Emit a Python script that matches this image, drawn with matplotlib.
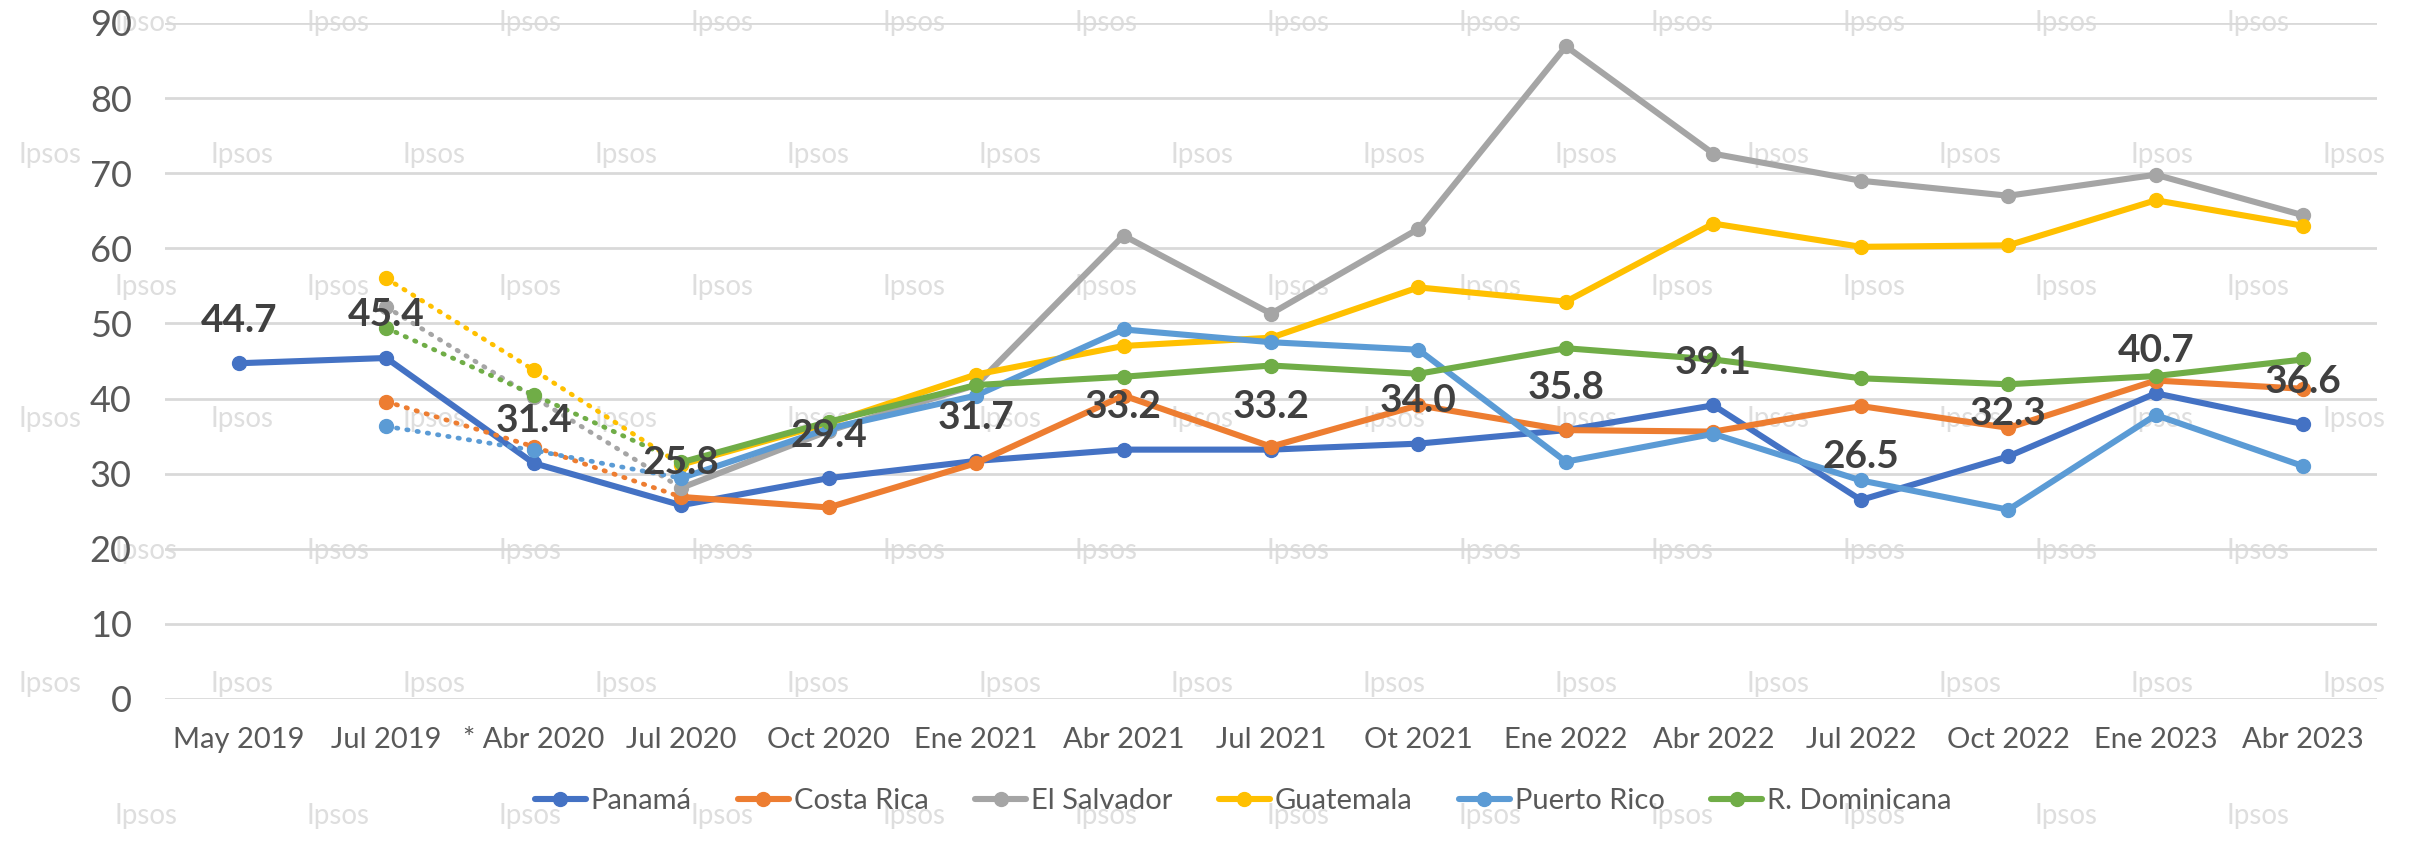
import matplotlib
matplotlib.use('Agg')
import matplotlib.pyplot as plt
import numpy as np

plt.rcParams['font.family'] = ['Lato', 'DejaVu Sans']

# categories and series values
months = ['May 2019', 'Jul 2019', '* Abr 2020', 'Jul 2020', 'Oct 2020', 'Ene 2021',
          'Abr 2021', 'Jul 2021', 'Ot 2021', 'Ene 2022', 'Abr 2022', 'Jul 2022',
          'Oct 2022', 'Ene 2023', 'Abr 2023']
panama = [44.7, 45.4, 31.4, 25.8, 29.4, 31.7, 33.2, 33.2, 34.0, 35.8, 39.1, 26.5, 32.3, 40.7, 36.6]
costa_rica = [None, 39.6, 33.6, 26.9, 25.5, 31.4, 40.4, 33.6, 39.1, 35.8, 35.6, 39.0, 36.1, 42.4, 41.3]
el_salvador = [None, 52.2, 40.2, 28.1, 35.7, 41.8, 61.7, 51.3, 62.6, 86.9, 72.6, 69.0, 67.0, 69.8, 64.4]
guatemala = [None, 56.0, 43.8, 31.2, 36.7, 43.2, 47.0, 48.1, 54.8, 52.9, 63.3, 60.2, 60.4, 66.4, 63.0]
puerto_rico = [None, 36.3, 33.1, 29.4, 36.0, 40.4, 49.2, 47.5, 46.5, 31.6, 35.3, 29.1, 25.2, 37.8, 31.0]
r_dominicana = [None, 49.4, 40.5, 31.5, 36.9, 41.8, 42.9, 44.4, 43.3, 46.7, 45.2, 42.7, 41.9, 43.0, 45.2]

names = ['Panamá', 'Costa Rica', 'El Salvador', 'Guatemala', 'Puerto Rico', 'R. Dominicana']
colors = ['#4472C4', '#ED7D31', '#A5A5A5', '#FFC000', '#5B9BD5', '#70AD47']
all_series = [panama, costa_rica, el_salvador, guatemala, puerto_rico, r_dominicana]

W, H = 2410, 842
fig = plt.figure(figsize=(W / 100, H / 100), dpi=100)
ax = fig.add_axes([165 / W, 1 - 699 / H, (2377 - 165) / W, (699 - 23) / H])
ax.set_zorder(1)
ax.patch.set_alpha(0)

# watermark
rows = [23, 155, 287, 419, 551, 684, 816]
for r, yy in enumerate(rows):
    start = 146 if r % 2 == 0 else 50
    for xx in range(start, W, 192):
        fig.text(xx / W, 1 - yy / H, 'Ipsos', ha='center', va='center',
                 fontsize=20, color='#dedede', zorder=0)

x = np.arange(len(months))
lw = 4.4
ms = 10
handles = []
for i, (name, vals, c) in enumerate(zip(names, all_series, colors)):
    v = np.array([np.nan if a is None else a for a in vals], dtype=float)
    z = 3 + i
    if name == 'Panamá':
        h, = ax.plot(x, v, color=c, lw=lw, marker='o', ms=ms, zorder=z,
                     solid_capstyle='round', clip_on=False)
    else:
        ax.plot(x[1:4], v[1:4], color=c, lw=3.4, linestyle=(0, (0.3, 1.9)),
                dash_capstyle='round', zorder=z, clip_on=False)
        ax.plot(x[1:3], v[1:3], color=c, lw=0, marker='o', ms=ms, zorder=z, clip_on=False)
        h, = ax.plot(x[3:], v[3:], color=c, lw=lw, marker='o', ms=ms, zorder=z,
                     solid_capstyle='round', clip_on=False)
    handles.append(h)

for i, v in enumerate(panama):
    ax.annotate(f'{v:.1f}', (i, v), xytext=(0, 31), textcoords='offset points',
                ha='center', va='center', fontsize=28, fontweight='bold',
                color='#404040', zorder=20)

ax.set_xlim(-0.5, len(months) - 0.5)
ax.set_ylim(0, 90)
ax.set_yticks(range(0, 91, 10))
ax.set_xticks(x)
ax.set_xticklabels(months)
ax.yaxis.grid(True, color='#d9d9d9', lw=2)
ax.set_axisbelow(True)
for s in ax.spines.values():
    s.set_visible(False)
ax.tick_params(axis='y', length=0, pad=24, labelsize=26, labelcolor='#595959')
ax.tick_params(axis='x', length=0, pad=20, labelsize=21, labelcolor='#595959')

fig.legend(handles, names, loc='center', bbox_to_anchor=(1243 / W, 1 - 801 / H),
           ncol=6, frameon=False, fontsize=21, handlelength=1.75, handletextpad=0.16,
           columnspacing=1.6, labelcolor='#595959')

fig.savefig('out.png', dpi=100)
